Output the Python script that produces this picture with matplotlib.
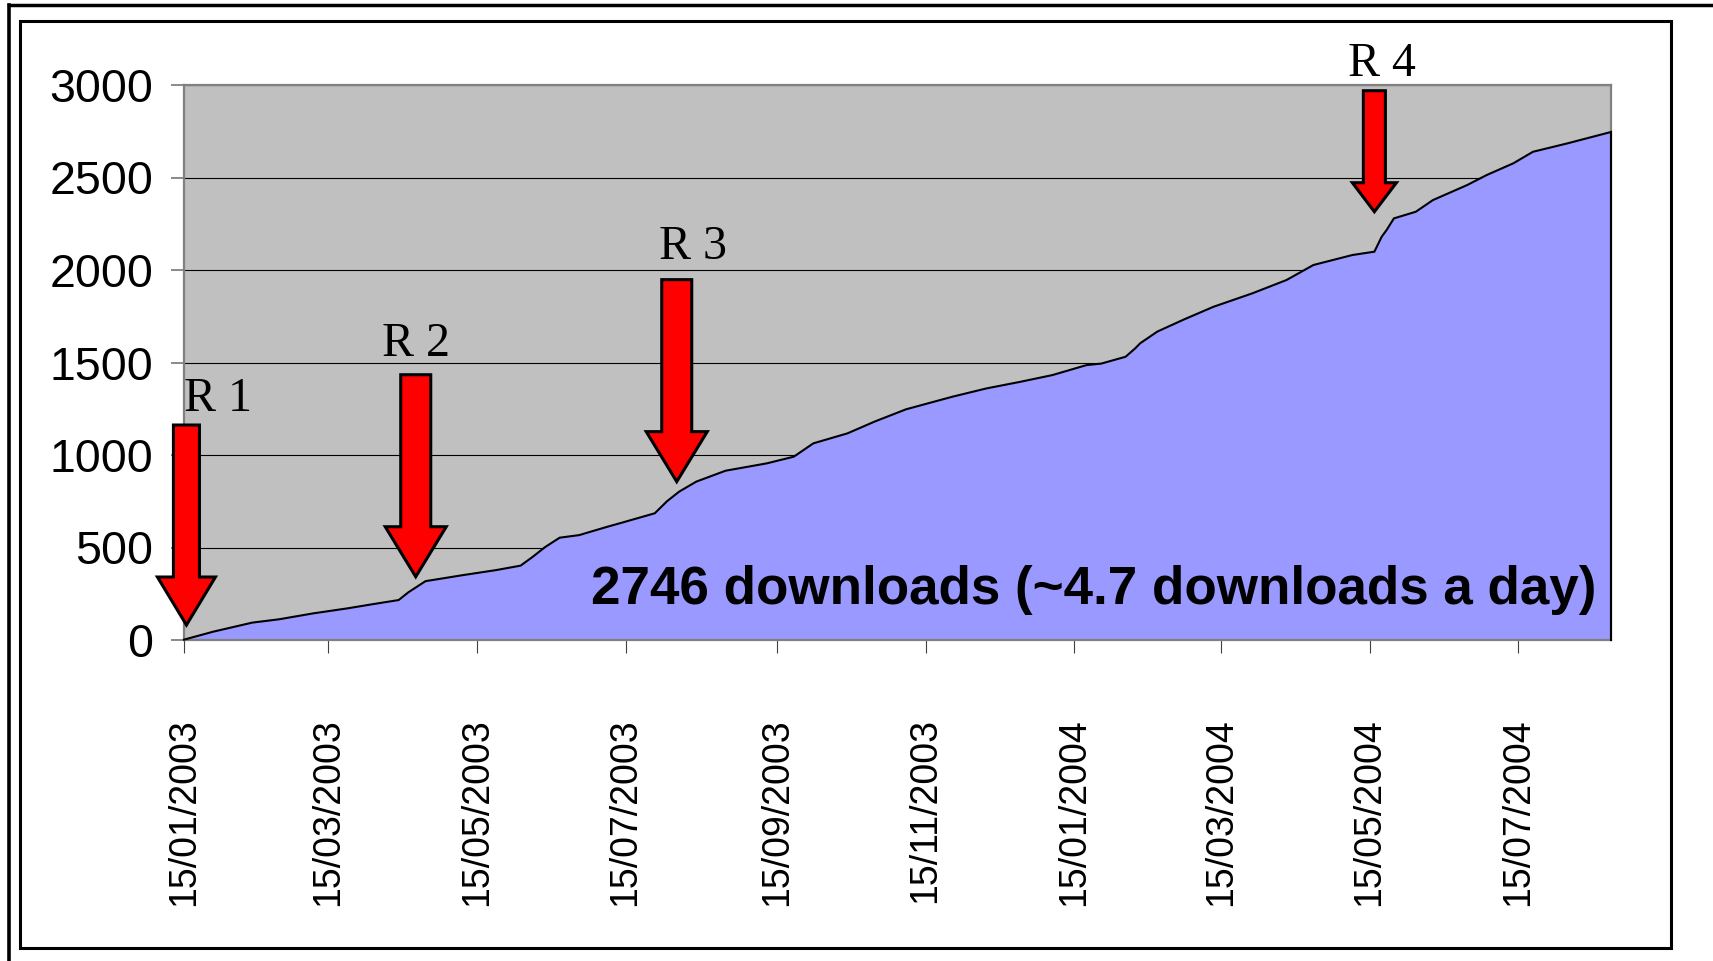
import matplotlib
matplotlib.use('Agg')
import matplotlib.pyplot as plt
import matplotlib.dates as mdates
import matplotlib.transforms as mtransforms
from matplotlib.patches import Polygon, Rectangle
from matplotlib.lines import Line2D
import numpy as np

# ---------------- data ----------------
dates = ['2003-01-15', '2003-01-27', '2003-02-12', '2003-02-23', '2003-03-09',
         '2003-03-23', '2003-04-03', '2003-04-13', '2003-04-17', '2003-04-24',
         '2003-05-09', '2003-05-23', '2003-06-02', '2003-06-07', '2003-06-12',
         '2003-06-18', '2003-06-26', '2003-07-07', '2003-07-14', '2003-07-27',
         '2003-08-01', '2003-08-06', '2003-08-13', '2003-08-25', '2003-09-11',
         '2003-09-22', '2003-09-30', '2003-10-14', '2003-10-25', '2003-11-07',
         '2003-11-26', '2003-12-10', '2003-12-24', '2004-01-06', '2004-01-20',
         '2004-01-26', '2004-02-05', '2004-02-09', '2004-02-11', '2004-02-18',
         '2004-02-29', '2004-03-12', '2004-03-28', '2004-04-11', '2004-04-22',
         '2004-05-08', '2004-05-17', '2004-05-20', '2004-05-22', '2004-05-25',
         '2004-06-03', '2004-06-10', '2004-06-24', '2004-07-02', '2004-07-13',
         '2004-07-21', '2004-08-04', '2004-08-22']
downloads = [2, 45, 94, 112, 144,
             171, 195, 216, 258, 318,
             350, 378, 402, 450, 502,
             553, 567, 610, 636, 685,
             750, 802, 856, 915, 955,
             991, 1063, 1117, 1180, 1247,
             1315, 1360, 1396, 1432, 1486,
             1494, 1531, 1577, 1604, 1667,
             1733, 1801, 1874, 1946, 2027,
             2081, 2099, 2180, 2216, 2279,
             2315, 2378, 2459, 2513, 2577,
             2639, 2684, 2746]

tick_dates = ['2003-01-15', '2003-03-15', '2003-05-15', '2003-07-15', '2003-09-15',
              '2003-11-15', '2004-01-15', '2004-03-15', '2004-05-15', '2004-07-15']
tick_labels = ['15/01/2003', '15/03/2003', '15/05/2003', '15/07/2003', '15/09/2003',
               '15/11/2003', '15/01/2004', '15/03/2004', '15/05/2004', '15/07/2004']
y_ticks = [0, 500, 1000, 1500, 2000, 2500, 3000]

release_labels = ['R 1', 'R 2', 'R 3', 'R 4']
release_dates = ['2003-01-16', '2003-04-20', '2003-08-05', '2004-05-17']
release_tip_values = [81, 342, 856, 2315]

summary_text = '2746 downloads (~4.7 downloads a day)'

# ---------------- layout ----------------
W, H, DPI = 1713, 961, 100
fig = plt.figure(figsize=(W / DPI, H / DPI), dpi=DPI)
fig.patch.set_facecolor('white')

L, R, T, B = 184, 1611, 85, 640
ax = fig.add_axes([L / W, 1 - B / H, (R - L) / W, (B - T) / H])
ax.set_facecolor('#C0C0C0')

x = mdates.datestr2num(dates)
y = np.array(downloads, dtype=float)

ax.fill_between(x, y, 0, color='#9999FF', lw=0, zorder=2)
ax.plot(np.append(x, x[-1]), np.append(y, 0), color='black', lw=1.5,
        zorder=3, clip_on=False, solid_joinstyle='miter')

ax.set_xlim(x[0], x[-1])
ax.set_ylim(0, 3000)

ax.set_axisbelow(True)
ax.yaxis.grid(True, color='black', lw=0.8)
ax.xaxis.grid(False)

for sp in ax.spines.values():
    sp.set_color('#808080')
    sp.set_linewidth(1.6)

sans = ['Liberation Sans', 'Arial', 'DejaVu Sans']

ax.set_yticks(y_ticks)
ax.set_yticklabels([str(v) for v in y_ticks], fontsize=33.5, family=sans)
ax.tick_params(axis='y', direction='out', length=9.4, width=1.3,
               color='#808080', pad=12.6)

ax.set_xticks(mdates.datestr2num(tick_dates))
ax.set_xticklabels(tick_labels, rotation=90, fontsize=27, family=sans)
ax.tick_params(axis='x', direction='out', length=9.4, width=0.8,
               color='#404040', pad=47)

# summary text
ident = mtransforms.IdentityTransform()
fig.text(1596, H - 604, summary_text, transform=ident, ha='right',
         va='baseline', fontsize=38.2, fontweight='bold', family=sans,
         color='black', zorder=6)

# release arrows: (total length, shaft half width, head half width, head length) in px
arrow_shapes = [(200, 13, 29, 48), (202, 15, 30.5, 50),
                (202, 15, 30.5, 50), (121, 11, 22, 29)]
label_pos = [(218, 411), (416, 356), (693, 259), (1382, 76)]

for lab, d, v, shp, lp in zip(release_labels, release_dates, release_tip_values,
                              arrow_shapes, label_pos):
    total, shw, hhw, hl = shp
    verts = [(0, 0), (hhw, hl), (shw, hl), (shw, total), (-shw, total),
             (-shw, hl), (-hhw, hl)]
    tr = mtransforms.Affine2D() + mtransforms.ScaledTranslation(
        mdates.datestr2num(d), v, ax.transData)
    poly = Polygon(verts, closed=True, facecolor='#FF0000', edgecolor='black',
                   lw=2.2, joinstyle='miter', transform=tr, clip_on=False,
                   zorder=5)
    fig.add_artist(poly)
    fig.text(lp[0], H - lp[1], lab, transform=ident, ha='center',
             va='baseline', fontsize=34.5,
             family=['Liberation Serif', 'Times New Roman', 'DejaVu Serif'],
             color='black', zorder=6)

# frames
fig.add_artist(Rectangle((20, H - 948.3), 1650.5, 948.3 - 20.7, fill=False,
                         edgecolor='black', lw=2.2, transform=ident, zorder=1))
fig.add_artist(Line2D([9, W + 5], [H - 5.3, H - 5.3], color='black', lw=2.5,
                      transform=ident, solid_capstyle='projecting'))
fig.add_artist(Line2D([9, 9], [H - 5.3, -5], color='black', lw=2.6,
                      transform=ident, solid_capstyle='projecting'))

fig.savefig('out.png', dpi=DPI)
